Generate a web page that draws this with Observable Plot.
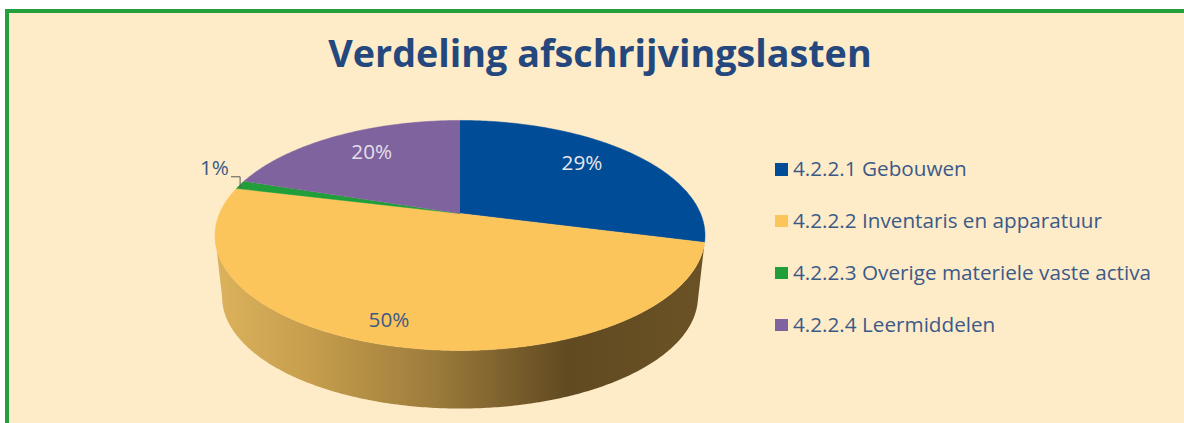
<!DOCTYPE html>
<html lang="nl">
<head>
<meta charset="utf-8">
<script src="https://cdn.jsdelivr.net/npm/d3@7"></script>
<script src="https://cdn.jsdelivr.net/npm/@observablehq/plot@0.6"></script>
<style>
  html, body { margin: 0; padding: 0; background: #fff; overflow: hidden; }
  #page { position: relative; width: 1184px; height: 423px; overflow: hidden; font-family: "Open Sans", sans-serif; }
  #frame { position: absolute; left: 5px; top: 9px; width: 1300px; height: 600px; border: 4px solid #22a03c; background: #feebc8; box-sizing: border-box; }
  #title { position: absolute; left: 0; top: 26px; margin: 0; width: 1200px; text-align: center; font-size: 37.7px; line-height: 54px; font-weight: 700; color: #24487e; }
  #chart { position: absolute; left: 0; top: 0; }
  #chart svg { display: block; background: transparent; }
  #legend { position: absolute; left: 775px; top: 143px; }
  .row { position: absolute; left: 0; white-space: nowrap; height: 52px; width: 400px; }
  .swatch { position: absolute; left: 0; top: 20px; width: 12.5px; height: 12.5px; }
  .label { position: absolute; left: 18px; top: 10px; font-size: 20.7px; line-height: 30px; color: #3b5a88; }
</style>
</head>
<body>
<div id="page">
  <div id="frame"></div>
  <h1 id="title"></h1>
  <div id="chart"></div>
  <div id="legend"></div>
</div>
<script>
const titleText = "Verdeling afschrijvingslasten";
const categories = ["4.2.2.1 Gebouwen", "4.2.2.2 Inventaris en apparatuur", "4.2.2.3 Overige materiele vaste activa", "4.2.2.4 Leermiddelen"];
const shares = [29, 49.8, 1.2, 20];
const shareLabels = ["29%", "50%", "1%", "20%"];
const sliceColors = ["#004c97", "#fcc55c", "#1f9e3a", "#7f639f"];
const labelColors = ["#e9e6ec", "#3b5a85", "#3b5a85", "#e4dfe9"];

// Perspective tilt of the disc
const tilt = 0.191;
const depthScale = 0.971;
const depthShift = 0.56;

function project(angle, radius = 1, level = 0) {
  const u = Math.sin(angle) * radius, v = -Math.cos(angle) * radius;
  const s = 1 / (1 - tilt * v);
  const k = level ? depthScale : 1;
  return { x: u * s * k, y: v * s * k + (level ? depthShift : 0) };
}
function arcPoints(a0, a1, level = 0) {
  const n = Math.max(2, Math.ceil(Math.abs(a1 - a0) / 0.01));
  return d3.range(n + 1).map(i => project(a0 + (a1 - a0) * i / n, 1, level));
}

const arcs = d3.pie().sort(null)(shares);

const slicePoints = arcs.flatMap(d =>
  [{ x: 0, y: 0 }, ...arcPoints(d.startAngle, d.endAngle)].map(p => ({ ...p, name: categories[d.index] }))
);

// The visible wall of the disc: along the near rim and back along the lower rim
const wallFrom = arcs[1].startAngle;
const wallTo = Math.PI * 2 - Math.acos(-tilt);
const wallPoints = [...arcPoints(wallFrom, wallTo), ...arcPoints(wallTo, wallFrom, 1)];

const labelPlace = [
  { r: 0.70, dx: -1, dy: -6 },
  { r: 0.84, dx: -13, dy: 0 },
  null,
  { r: 0.70, dx: 1, dy: -5 }
];
const labelPoint = i => {
  const a = (arcs[i].startAngle + arcs[i].endAngle) / 2;
  return project(a, labelPlace[i].r);
};

// Leader for the small slice
const smallMid = project((arcs[2].startAngle + arcs[2].endAngle) / 2);
const elbow = { x: smallMid.x, y: smallMid.y - 0.072 };
const leader = [
  { x: smallMid.x, y: smallMid.y + 0.02 },
  elbow,
  { x: elbow.x - 0.036, y: elbow.y }
];

const gradient = () => {
  const defs = d3.create("svg:defs");
  const g = defs.append("linearGradient").attr("id", "wallShade").attr("x1", 0).attr("x2", 1).attr("y1", 0).attr("y2", 0);
  [[0, "#dcb25c"], [0.2, "#c59d4c"], [0.45, "#9c7b3b"], [0.72, "#614a21"], [1, "#6b5226"]].forEach(([o, c]) =>
    g.append("stop").attr("offset", o).attr("stop-color", c));
  return defs.node();
};

const textMarks = shareLabels.map((t, i) => {
  if (i === 2) {
    return Plot.text([leader[2]], { x: "x", y: "y", text: () => t, dx: -17, dy: -8, fill: labelColors[i], fontSize: 20.7, fontFamily: "Open Sans" });
  }
  return Plot.text([labelPoint(i)], { x: "x", y: "y", text: () => t, dx: labelPlace[i].dx, dy: labelPlace[i].dy, fill: labelColors[i], fontSize: 20.7, fontFamily: "Open Sans" });
});

const chart = Plot.plot({
  width: 1184,
  height: 423,
  margin: 0,
  style: { background: "transparent", overflow: "visible" },
  x: { domain: [-1, 1], range: [459.5 - 240.5, 459.5 + 240.5], axis: null },
  y: { domain: [-1, 1], range: [213 - 110.8, 213 + 110.8], axis: null },
  color: { domain: categories, range: sliceColors },
  marks: [
    gradient,
    Plot.line(wallPoints, { x: "x", y: "y", fill: "url(#wallShade)", stroke: "none" }),
    Plot.line(slicePoints, { x: "x", y: "y", z: "name", fill: "name", stroke: "name", strokeWidth: 0.5 }),
    Plot.line(leader, { x: "x", y: "y", stroke: "#5a5a5a", strokeWidth: 1 }),
    ...textMarks
  ]
});
document.getElementById("chart").append(chart);
document.getElementById("title").textContent = titleText;

const legend = d3.select("#legend");
categories.forEach((c, i) => {
  const row = legend.append("div").attr("class", "row").style("top", (i * 51.9) + "px");
  row.append("div").attr("class", "swatch").style("background", sliceColors[i]);
  row.append("div").attr("class", "label").text(c);
});
</script>
</body>
</html>
